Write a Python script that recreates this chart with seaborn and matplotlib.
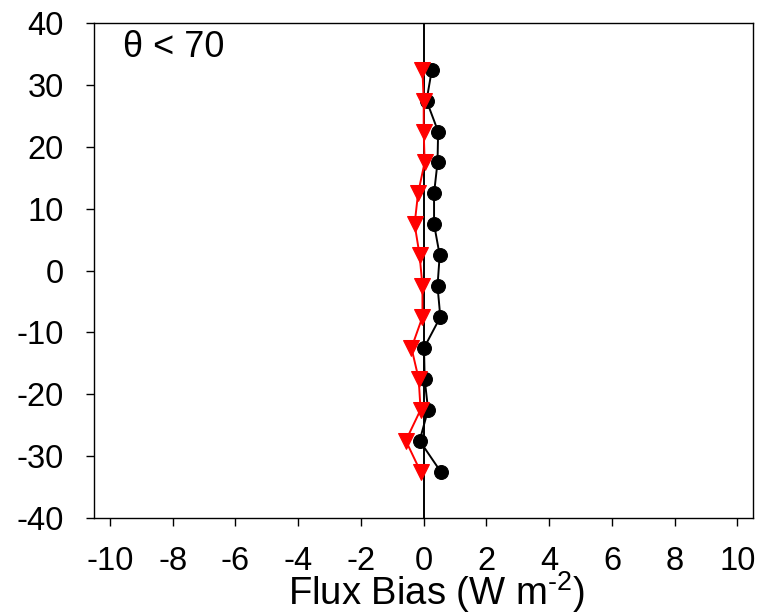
import matplotlib
matplotlib.use("Agg")
import matplotlib.pyplot as plt
import seaborn as sns
import pandas as pd

# Latitude bin centres (degrees)
latitude = [32.5, 27.5, 22.5, 17.5, 12.5, 7.5, 2.5,
            -2.5, -7.5, -12.5, -17.5, -22.5, -27.5, -32.5]

# Flux bias for the two retrievals (W m-2)
bias_black = [0.26, 0.09, 0.46, 0.44, 0.33, 0.33, 0.51,
              0.44, 0.53, 0.01, 0.03, 0.14, -0.13, 0.54]
bias_red = [-0.04, 0.00, 0.00, 0.03, -0.18, -0.29, -0.13,
            -0.04, -0.04, -0.39, -0.16, -0.10, -0.57, -0.10]

x_ticks = [-10, -8, -6, -4, -2, 0, 2, 4, 6, 8, 10]
y_ticks = [-40, -30, -20, -10, 0, 10, 20, 30, 40]

sns.set_theme(style="ticks")
plt.rcParams["font.family"] = ["Liberation Sans", "DejaVu Sans"]
plt.rcParams["mathtext.fontset"] = "custom"
plt.rcParams["mathtext.rm"] = "Liberation Sans"
plt.rcParams["axes.unicode_minus"] = False

df = pd.DataFrame({"lat": latitude, "black": bias_black, "red": bias_red})

fig = plt.figure(figsize=(7.6, 6.14), dpi=100)
ax = fig.add_axes([0.124, 0.1564, 0.867, 0.8056])

ax.axvline(0, color="black", lw=1.4, zorder=1)

sns.lineplot(data=df, x="black", y="lat", sort=False, estimator=None,
             orient="y", color="black", lw=1.4, marker="o", markersize=10,
             markeredgecolor="black", markerfacecolor="black", ax=ax, zorder=2)
sns.lineplot(data=df, x="red", y="lat", sort=False, estimator=None,
             orient="y", color="#ff0000", lw=1.4, marker="v", markersize=12,
             markeredgecolor="#ff0000", markerfacecolor="#ff0000", ax=ax, zorder=3)

ax.set_xlim(-10.5, 10.5)
ax.set_ylim(-40, 40)
ax.set_xticks(x_ticks)
ax.set_yticks(y_ticks)
ax.set_xticklabels([str(v) for v in x_ticks])
ax.set_yticklabels([str(v) for v in y_ticks])

for s in ax.spines.values():
    s.set_visible(True)
    s.set_linewidth(1.0)
    s.set_color("black")

ax.tick_params(axis="both", which="major", direction="out", length=6,
               width=1.0, color="black", labelsize=23.5, labelcolor="black",
               top=False, right=False)
ax.tick_params(axis="x", pad=14)
ax.tick_params(axis="y", pad=16)

ax.set_xlabel("Flux Bias (W m$^{\\mathregular{\u20102}}$)", fontsize=27.5,
              color="black", va="baseline")
ax.xaxis.set_label_coords(0.52, -0.175)
ax.set_ylabel("")

ax.text(0.0435, 0.932, "θ < 70", transform=ax.transAxes, fontsize=26,
        ha="left", va="baseline", color="black")

fig.savefig("out.png", dpi=100)
